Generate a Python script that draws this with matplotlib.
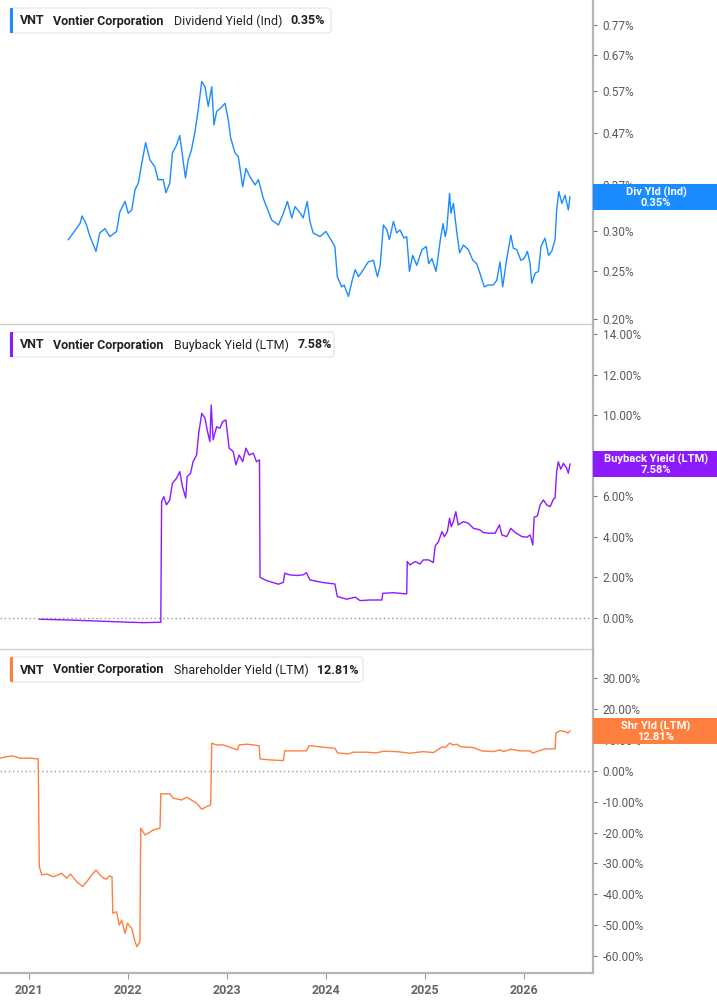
import matplotlib
matplotlib.use("Agg")
import matplotlib.pyplot as plt
import matplotlib.dates as mdates
import matplotlib.ticker as mticker
from matplotlib.patches import FancyBboxPatch, Rectangle
from matplotlib.text import Annotation
import pandas as pd

plt.rcParams['font.family'] = ['Roboto', 'DejaVu Sans']

ticker_sym = "VNT"
company = "Vontier Corporation"

# ---------------- Dividend Yield (Ind), % ----------------
div_dates = ["2021-05-27","2021-06-08","2021-07-09","2021-07-17","2021-08-02","2021-08-15","2021-09-06","2021-09-20",
 "2021-10-09","2021-10-27","2021-11-21","2021-12-03","2021-12-22","2022-01-03","2022-01-16","2022-01-28","2022-02-09",
 "2022-02-21","2022-03-08","2022-03-24","2022-04-11","2022-04-23","2022-05-12","2022-05-22","2022-06-05","2022-06-15",
 "2022-06-30","2022-07-12","2022-07-24","2022-08-02","2022-08-12","2022-08-24","2022-09-06","2022-09-18","2022-10-01",
 "2022-10-13","2022-10-25","2022-11-07","2022-11-15","2022-11-25","2022-12-10","2022-12-26","2023-01-07","2023-01-16",
 "2023-02-01","2023-02-13","2023-03-01","2023-03-13","2023-03-28","2023-04-16","2023-04-28","2023-05-16","2023-06-16",
 "2023-07-11","2023-07-29","2023-08-13","2023-08-29","2023-09-10","2023-09-28","2023-10-10","2023-10-25","2023-11-04",
 "2023-11-16","2023-12-11","2024-01-02","2024-01-17","2024-02-04","2024-02-13","2024-02-29","2024-03-09","2024-03-25",
 "2024-04-07","2024-04-19","2024-05-01","2024-05-19","2024-06-06","2024-06-25","2024-07-10","2024-07-20","2024-08-01",
 "2024-08-14","2024-08-23","2024-09-07","2024-09-19","2024-10-01","2024-10-16","2024-10-26","2024-11-05","2024-11-17",
 "2024-12-02","2024-12-21","2025-01-06","2025-01-15","2025-01-27","2025-02-11","2025-02-17","2025-02-27","2025-03-09",
 "2025-03-17","2025-03-23","2025-04-02","2025-04-07","2025-04-16","2025-04-29","2025-05-09","2025-05-23","2025-06-10",
 "2025-06-27","2025-07-11","2025-07-23","2025-08-08","2025-08-23","2025-09-10","2025-09-23","2025-10-05","2025-10-15",
 "2025-10-30","2025-11-14","2025-11-23","2025-12-06","2025-12-21","2026-01-02","2026-01-14","2026-01-24","2026-01-30",
 "2026-02-12","2026-02-24","2026-03-05","2026-03-20","2026-04-02","2026-04-14","2026-04-26","2026-05-02","2026-05-10",
 "2026-05-21","2026-06-02","2026-06-14","2026-06-20"]
div_vals = [0.288,0.294,0.310,0.321,0.308,0.292,0.273,0.297,
 0.303,0.292,0.299,0.327,0.343,0.325,0.330,0.362,0.373,
 0.406,0.449,0.415,0.402,0.379,0.379,0.357,0.373,0.428,
 0.444,0.464,0.415,0.382,0.415,0.434,0.472,0.522,0.594,
 0.580,0.530,0.580,0.487,0.518,0.526,0.538,0.498,0.458,
 0.428,0.421,0.367,0.399,0.384,0.370,0.379,0.348,0.315,
 0.308,0.325,0.343,0.318,0.335,0.326,0.318,0.343,0.313,
 0.297,0.292,0.299,0.290,0.279,0.243,0.232,0.234,0.222,
 0.238,0.251,0.243,0.251,0.260,0.262,0.243,0.256,0.308,
 0.301,0.288,0.313,0.297,0.301,0.290,0.292,0.249,0.268,
 0.256,0.275,0.279,0.258,0.264,0.249,0.262,0.288,0.310,
 0.292,0.303,0.356,0.325,0.340,0.297,0.271,0.281,0.275,
 0.262,0.258,0.247,0.232,0.234,0.234,0.239,0.260,0.232,
 0.264,0.294,0.277,0.275,0.262,0.264,0.273,0.258,0.236,
 0.247,0.249,0.279,0.290,0.268,0.273,0.288,0.330,0.359,
 0.340,0.353,0.330,0.350]

# ---------------- Buyback Yield (LTM), % ----------------
bb_dates = ["2021-02-09","2021-05-08","2021-08-02","2021-11-09","2022-02-27","2022-05-03","2022-05-06","2022-05-14",
 "2022-05-24","2022-06-05","2022-06-15","2022-06-30","2022-07-12","2022-07-22","2022-08-03","2022-08-08","2022-08-21",
 "2022-08-30","2022-09-12","2022-09-20","2022-10-01","2022-10-13","2022-10-21","2022-10-31","2022-11-05","2022-11-12",
 "2022-11-25","2022-12-07","2022-12-17","2022-12-29","2023-01-10","2023-01-25","2023-02-04","2023-02-16","2023-03-01",
 "2023-03-13","2023-03-25","2023-04-09","2023-04-21","2023-05-02","2023-05-04","2023-05-28","2023-06-21","2023-07-11",
 "2023-07-29","2023-08-03","2023-08-22","2023-09-16","2023-10-10","2023-10-22","2023-11-04","2023-12-23","2024-02-04",
 "2024-02-13","2024-03-19","2024-04-19","2024-05-07","2024-06-13","2024-07-26","2024-07-30","2024-09-07","2024-10-26",
 "2024-10-28","2024-11-07","2024-11-26","2024-12-14","2024-12-26","2025-01-15","2025-02-01","2025-02-08","2025-02-20",
 "2025-03-05","2025-03-14","2025-03-25","2025-04-02","2025-04-08","2025-04-16","2025-04-25","2025-05-04","2025-05-23",
 "2025-06-10","2025-06-29","2025-07-23","2025-08-05","2025-08-23","2025-09-17","2025-10-03","2025-10-12","2025-10-30",
 "2025-11-14","2025-11-30","2025-12-25","2026-01-12","2026-01-24","2026-02-03","2026-02-08","2026-02-20","2026-03-02",
 "2026-03-14","2026-03-26","2026-04-08","2026-04-20","2026-04-26","2026-05-02","2026-05-08","2026-05-17","2026-05-27",
 "2026-06-08","2026-06-14","2026-06-20"]
bb_vals = [-0.08,-0.11,-0.15,-0.20,-0.25,-0.23,5.73,5.98,
 5.57,5.81,6.64,6.88,7.21,6.47,5.90,6.96,7.13,
 7.70,8.03,9.11,10.09,9.85,9.27,8.69,10.50,8.78,
 9.43,9.35,9.68,9.76,8.37,8.20,7.54,8.03,7.70,
 8.37,8.03,8.12,7.70,7.79,1.99,1.83,1.73,1.65,
 1.74,2.19,2.11,2.08,2.11,2.22,1.86,1.73,1.66,
 1.04,0.91,1.01,0.84,0.87,0.87,1.20,1.23,1.17,
 2.77,2.60,2.77,2.65,2.85,2.85,2.72,3.54,3.75,
 4.25,4.00,4.25,4.91,4.49,4.74,5.23,4.58,4.74,
 4.66,4.41,4.33,4.20,4.17,4.17,4.58,4.08,4.00,
 4.41,4.20,4.00,3.97,4.08,3.59,4.96,5.02,5.57,
 5.81,5.57,5.48,5.85,5.90,7.21,7.70,7.33,7.62,
 7.38,7.13,7.58]

# ---------------- Shareholder Yield (LTM), % ----------------
sh_dates = ["2020-09-17","2020-10-11","2020-11-04","2020-11-29","2021-01-06","2021-02-05","2021-02-09","2021-02-18",
 "2021-03-08","2021-04-02","2021-05-02","2021-05-21","2021-06-04","2021-06-27","2021-07-19","2021-08-08","2021-08-21",
 "2021-09-06","2021-09-18","2021-09-27","2021-10-13","2021-10-27","2021-11-04","2021-11-07","2021-11-21","2021-12-01",
 "2021-12-10","2021-12-22","2021-12-31","2022-01-16","2022-01-28","2022-02-04","2022-02-15","2022-02-18","2022-03-06",
 "2022-03-18","2022-04-05","2022-04-30","2022-05-03","2022-06-05","2022-06-18","2022-07-19","2022-08-06","2022-08-24",
 "2022-09-12","2022-10-01","2022-10-19","2022-11-03","2022-11-07","2022-11-25","2022-12-19","2023-01-13","2023-02-09",
 "2023-02-16","2023-03-16","2023-04-09","2023-05-01","2023-05-04","2023-06-09","2023-07-29","2023-08-03","2023-08-22",
 "2023-10-22","2023-11-01","2023-12-23","2024-02-04","2024-02-14","2024-03-25","2024-04-12","2024-06-01","2024-07-07",
 "2024-08-01","2024-09-19","2024-11-07","2024-12-26","2025-02-02","2025-03-05","2025-03-17","2025-04-02","2025-04-16",
 "2025-04-29","2025-05-11","2025-06-29","2025-07-30","2025-09-10","2025-10-05","2025-10-18","2025-11-14","2025-12-18",
 "2026-01-24","2026-02-03","2026-02-24","2026-03-20","2026-04-26","2026-04-29","2026-05-15","2026-06-02","2026-06-12",
 "2026-06-20"]
sh_vals = [4.0,4.5,4.75,4.0,4.0,3.78,-31.0,-33.7,
 -33.4,-34.3,-33.2,-34.8,-33.4,-35.9,-37.5,-35.3,-33.7,
 -32.1,-33.4,-34.3,-35.1,-34.0,-34.3,-46.1,-45.6,-49.9,
 -48.3,-52.6,-49.3,-51.0,-55.3,-56.9,-55.3,-18.6,-20.8,
 -20.2,-19.2,-18.6,-7.5,-7.5,-8.9,-9.5,-8.6,-9.5,
 -10.5,-12.5,-11.6,-11.1,8.86,8.31,8.31,7.57,6.69,
 8.31,8.54,8.31,7.99,3.78,3.46,3.23,6.37,6.37,
 6.37,8.08,7.57,7.24,5.72,5.40,5.95,5.95,5.72,
 6.27,6.14,5.63,6.14,5.82,7.66,7.44,8.86,8.31,
 8.54,7.76,7.44,6.37,6.14,6.69,6.14,6.92,6.37,
 6.37,5.63,6.37,7.02,7.02,12.1,12.93,12.6,12.1,
 12.81]

div_ticks = [0.20, 0.25, 0.30, 0.37, 0.47, 0.57, 0.67, 0.77]
bb_ticks = [0, 2, 4, 6, 8, 10, 12, 14]
sh_ticks = [-60, -50, -40, -30, -20, -10, 0, 10, 20, 30]

panels = [
    dict(dates=div_dates, vals=div_vals, color="#1a8cff", label="Dividend Yield (Ind)", last="0.35%",
         tag="Div Yld (Ind)", last_val=0.35, ylim=(0.1957, 0.863), log=True, ticks=div_ticks, zero=False,
         box_right=331),
    dict(dates=bb_dates, vals=bb_vals, color="#8c1aff", label="Buyback Yield (LTM)", last="7.58%",
         tag="Buyback Yield (LTM)", last_val=7.58, ylim=(-1.55, 14.5), log=False, ticks=bb_ticks, zero=True,
         box_right=334),
    dict(dates=sh_dates, vals=sh_vals, color="#ff7f3f", label="Shareholder Yield (LTM)", last="12.81%",
         tag="Shr Yld (LTM)", last_val=12.81, ylim=(-65.4, 39.3), log=False, ticks=sh_ticks, zero=True,
         box_right=363),
]

W, H = 717, 1005
fig = plt.figure(figsize=(W / 100, H / 100), dpi=100)
fig.patch.set_facecolor("white")

tops = [0, 324, 649]
bottoms = [324, 649, 973]
plot_right = 593
xlim = (pd.Timestamp("2020-09-17"), pd.Timestamp("2026-09-13"))

for i, p in enumerate(panels):
    t, b = tops[i], bottoms[i]
    ax = fig.add_axes([0, 1 - b / H, plot_right / W, (b - t) / H])
    x = pd.to_datetime(p["dates"])
    ax.plot(x, p["vals"], color=p["color"], lw=1.0, solid_joinstyle="round", zorder=3)
    if p["log"]:
        ax.set_yscale("log")
    ax.set_ylim(*p["ylim"])
    ax.set_xlim(*xlim)
    ax.yaxis.tick_right()
    ax.yaxis.set_major_locator(mticker.FixedLocator(p["ticks"]))
    ax.yaxis.set_minor_locator(mticker.NullLocator())
    ax.yaxis.set_major_formatter(mticker.FuncFormatter(lambda v, pos: f"{v:.2f}%"))
    ax.tick_params(axis="y", which="both", length=3, width=0.8, color="#777777", pad=4,
                   labelsize=8.5, labelcolor="#5a5a5a")
    for s in ["top", "left"]:
        ax.spines[s].set_visible(False)
    ax.spines["right"].set_color("#b5b5b5")
    ax.spines["right"].set_linewidth(1.6)
    ax.spines["bottom"].set_color("#d0d0d0" if i < 2 else "#b5b5b5")
    ax.spines["bottom"].set_linewidth(1.0 if i < 2 else 1.6)
    ax.set_facecolor("none")
    if p["zero"]:
        ax.axhline(0, color="#999999", lw=1.0, ls=(0, (1, 2)), zorder=2)
    ax.xaxis.set_major_locator(mdates.YearLocator())
    ax.xaxis.set_major_formatter(mdates.DateFormatter("%Y"))
    if i < 2:
        ax.tick_params(axis="x", which="both", bottom=False, labelbottom=False)
    else:
        ax.tick_params(axis="x", length=4, width=0.8, color="#999999", pad=4, labelsize=9,
                       labelcolor="#666666")
        for lbl in ax.get_xticklabels():
            lbl.set_fontweight("bold")

    # legend header box
    bx0, by0 = 10, t + 8
    bh = 25
    box = FancyBboxPatch((bx0 / W, 1 - (by0 + bh) / H), (p["box_right"] - bx0) / W, bh / H,
                         boxstyle="round,pad=0,rounding_size=0.004", transform=fig.transFigure,
                         facecolor="white", edgecolor="#e4e4e4", lw=0.8, zorder=5)
    fig.add_artist(box)
    bar = Rectangle((bx0 / W, 1 - (by0 + bh) / H), 3 / W, bh / H, transform=fig.transFigure,
                    facecolor=p["color"], edgecolor="none", zorder=6)
    fig.add_artist(bar)
    ty = 1 - (by0 + bh / 2 + 0.5) / H
    fig.text(20 / W, ty, ticker_sym, fontsize=9, fontweight="bold", color="#222222",
             va="center", ha="left", zorder=7)
    fig.text(53 / W, ty, company, fontsize=9, fontweight="bold", color="#222222",
             va="center", ha="left", zorder=7)
    t3 = fig.text(174 / W, ty, p["label"], fontsize=9, color="#222222", va="center", ha="left", zorder=7)
    t4 = Annotation(p["last"], xy=(1, 0.5), xycoords=t3, xytext=(6, 0), textcoords="offset points",
                    fontsize=9, fontweight="bold", color="#222222", va="center", ha="left", zorder=7)
    fig.add_artist(t4)

    # right-side value tag
    ydisp = ax.transData.transform((0, p["last_val"]))[1]
    yfig = ydisp / H
    tag_h = 26
    tag = Rectangle((plot_right / W, yfig - tag_h / 2 / H), (W - plot_right) / W, tag_h / H,
                    transform=fig.transFigure, facecolor=p["color"], edgecolor="none", zorder=8)
    fig.add_artist(tag)
    fig.text((plot_right + (W - plot_right) / 2 + 1) / W, yfig, f"{p['tag']}\n{p['last']}",
             ha="center", va="center", color="white", fontsize=8, fontweight="bold",
             linespacing=1.0, zorder=9)

fig.savefig("out.png", dpi=100, facecolor="white")
